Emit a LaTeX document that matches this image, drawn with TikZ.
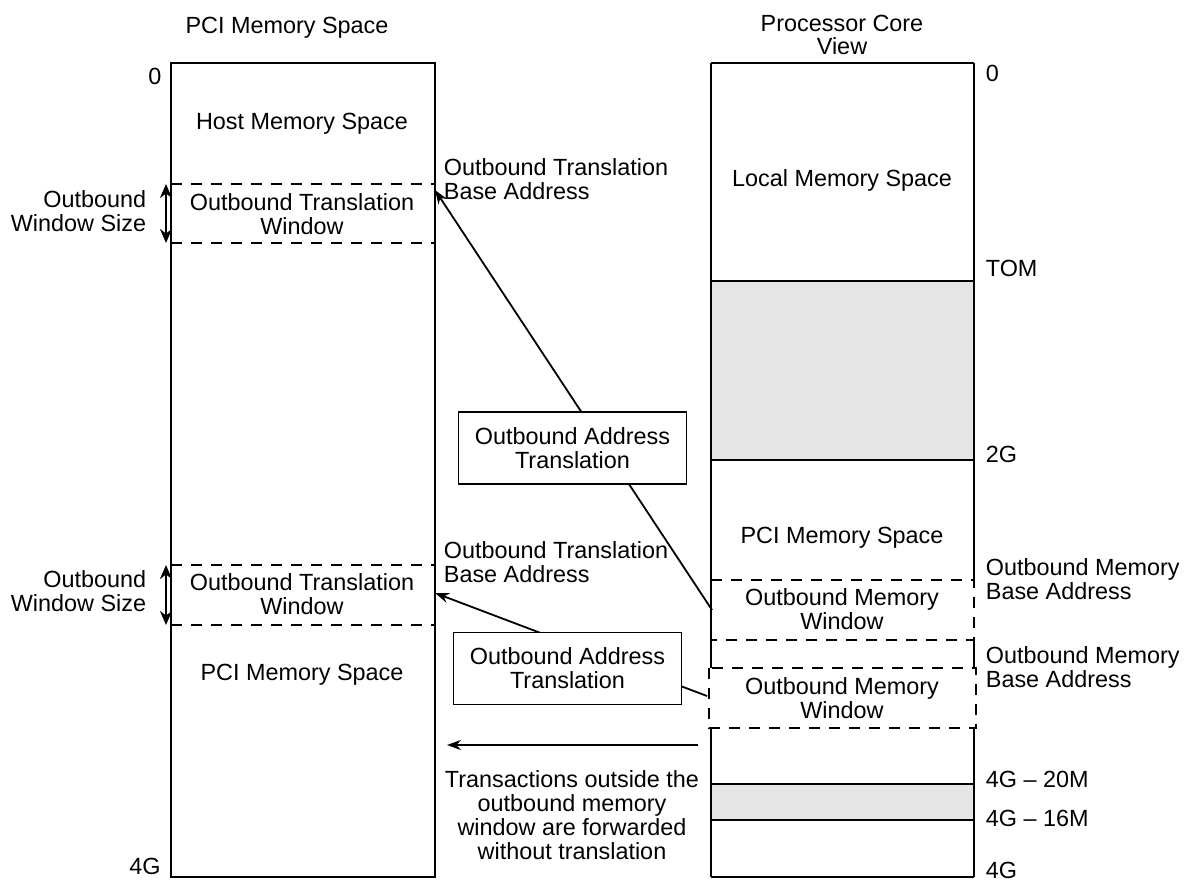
\documentclass[tikz,border=0pt]{standalone}
\usepackage{fontspec}
\setmainfont{Liberation Sans}
\usetikzlibrary{arrows.meta}
\begin{document}
\begin{tikzpicture}[x=0.5pt,y=-0.5pt,
  font=\fontsize{11.7}{11.9}\selectfont,
  line width=0.9pt,
  lbl/.style={inner sep=0pt, align=left, anchor=west},
  rlbl/.style={inner sep=0pt, align=right, anchor=east},
  ctr/.style={inner sep=0pt, align=center},
  dsh/.style={dash pattern=on 5.5pt off 4.5pt},
  tbox/.style={draw, fill=white, align=center, minimum width=114pt, minimum height=36pt, inner sep=0pt},
  arr/.style={-{Stealth[length=7pt,width=5pt]}},
  darr/.style={line width=1.2pt, {Stealth[length=7pt,width=6pt]}-{Stealth[length=7pt,width=6pt]}}]
\useasboundingbox (0,0) rectangle (1188,881);
% ---- left column
\draw (171,63) rectangle (435,877);
\draw[dsh] (171,184) -- (435,184) (171,243) -- (435,243);
\draw[dsh] (171,565) -- (435,565) (171,625) -- (435,625);
% ---- right column
\fill[gray!20] (711,281) rectangle (974,460);
\fill[gray!20] (711,784) rectangle (974,820);
\draw (711,63) -- (974,63) (711,877) -- (974,877);
\draw (711,281) -- (974,281) (711,460) -- (974,460);
\draw (711,784) -- (974,784) (711,820) -- (974,820);
\draw (711,63) -- (711,668) (711,728) -- (711,877);
\draw (974,63) -- (974,580) (974,640) -- (974,668) (974,728) -- (974,877);
\draw[dsh] (711,580) -- (974,580) -- (974,640) -- (711,640);
\draw[dsh] (709,668) rectangle (976,728);
% ---- titles and scale labels
\node[ctr] (t1) at (287,28) {PCI Memory Space};
\node[ctr] (t2) at (842,35) {Processor Core\\View};
\node[ctr] (l0) at (155,76) {0};
\node[ctr] (l4g) at (145,866) {4G};
\node[lbl] (r0) at (985,73) {0};
\node[lbl] (rtom) at (985,268) {TOM};
\node[lbl] (r2g) at (985,454) {2G};
\node[lbl] (r20) at (985,779) {4G -- 20M};
\node[lbl] (r16) at (985,818) {4G -- 16M};
\node[lbl] (r4g) at (985,870) {4G};
% ---- left column texts
\node[ctr] (host) at (302,124) {Host Memory Space};
\node[ctr] (otw1) at (302,214) {Outbound Translation\\Window};
\node[ctr] (otw2) at (302,594) {Outbound Translation\\Window};
\node[ctr] (pcil) at (302,675) {PCI Memory Space};
\node[rlbl] (ows1) at (147,211) {Outbound\\Window Size};
\node[rlbl] (ows2) at (147,591) {Outbound\\Window Size};
\coordinate (a1t) at (166,184); \coordinate (a1b) at (166,243);
\coordinate (a2t) at (166,565); \coordinate (a2b) at (166,625);
\draw[darr] (a1t) -- (a1b);
\draw[darr] (a2t) -- (a2b);
\node[lbl] (otba1) at (443,179) {Outbound Translation\\Base Address};
\node[lbl] (otba2) at (443,562) {Outbound Translation\\Base Address};
% ---- right column texts
\node[ctr] (local) at (842,180) {Local Memory Space};
\node[ctr] (pcir) at (842,538) {PCI Memory Space};
\node[ctr] (omw1) at (842,609) {Outbound Memory\\Window};
\node[ctr] (omw2) at (842,698) {Outbound Memory\\Window};
\node[lbl] (omba1) at (985,579) {Outbound Memory\\Base Address};
\node[lbl] (omba2) at (985,667) {Outbound Memory\\Base Address};
% ---- translation arrows
\coordinate (s1) at (712,610); \coordinate (e1) at (435,190);
\coordinate (s2) at (707,696); \coordinate (e2) at (435,593);
\draw[arr] (s1) -- (e1);
\draw[arr] (s2) -- (e2);
\node[tbox] (oat1) at (572.5,448) {Outbound Address\\Translation};
\node[tbox] (oat2) at (567.5,668.5) {Outbound Address\\Translation};
% ---- bottom arrow
\coordinate (s3) at (698,745); \coordinate (e3) at (447,745);
\draw[arr] (s3) -- (e3);
\node[ctr] (trans) at (572,815) {Transactions outside the\\outbound memory\\window are forwarded\\without translation};
\end{tikzpicture}
\end{document}
